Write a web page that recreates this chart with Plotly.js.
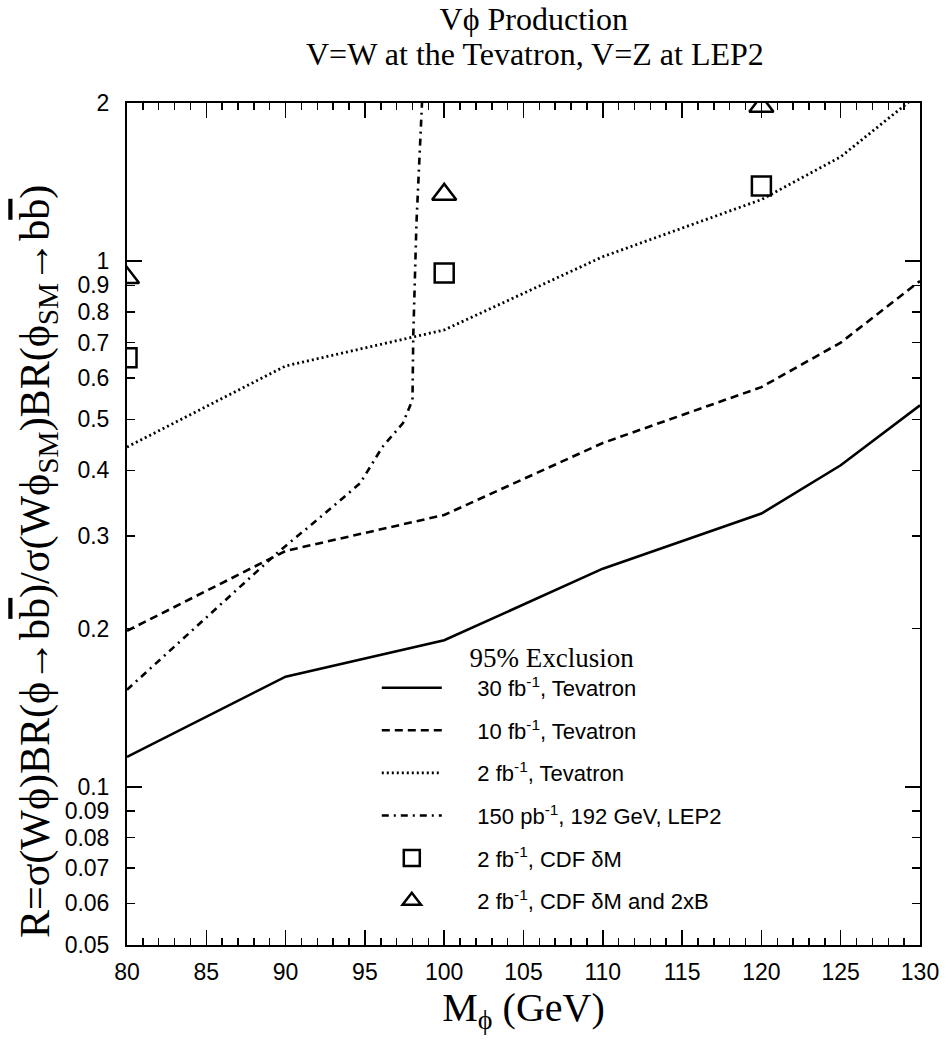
<!DOCTYPE html>
<html>
<head>
<meta charset="utf-8">
<script src="https://cdn.plot.ly/plotly-3.0.1.min.js"></script>
<style>
  html, body { margin: 0; padding: 0; background: #fff; }
  #chart { width: 948px; height: 1045px; }
</style>
</head>
<body>
<div id="chart"></div>
<script>
// ---- data ----
const mass30 = [80, 90, 100, 110, 120, 125, 130];
const r30 = [0.114, 0.162, 0.190, 0.260, 0.331, 0.409, 0.532];

const mass10 = [80, 90, 100, 110, 120, 125, 130];
const r10 = [0.198, 0.281, 0.329, 0.451, 0.576, 0.70, 0.917];

const mass2 = [80, 90, 100, 110, 120, 125, 130];
const r2 = [0.443, 0.632, 0.74, 1.02, 1.31, 1.58, 2.09];

const massLEP = [80, 85, 89.5, 92.2, 94.7, 96.1, 97.4, 98.0, 98.05, 98.25, 98.6];
const rLEP = [0.153, 0.21, 0.279, 0.326, 0.378, 0.443, 0.492, 0.545, 0.72, 1.18, 2.0];

const massSq = [80, 100, 120];
const rSq = [0.655, 0.95, 1.39];

const massTri = [80, 100, 120];
const rTri = [0.93, 1.34, 1.97];

const yTickVals = [0.05, 0.06, 0.07, 0.08, 0.09, 0.1, 0.2, 0.3, 0.4, 0.5, 0.6, 0.7, 0.8, 0.9, 1, 2];
const yTickText = ['0.05', '0.06', '0.07', '0.08', '0.09', '0.1', '0.2', '0.3', '0.4', '0.5', '0.6', '0.7', '0.8', '0.9', '1', '2'];
const yMajorVals = [0.1, 1];
const xTickVals = [80, 85, 90, 95, 100, 105, 110, 115, 120, 125, 130];
const xTickText = ['80', '85', '90', '95', '100', '105', '110', '115', '120', '125', '130'];

const pad = '\u00a0\u00a0\u00a0\u00a0\u00a0';
const names = [
  pad + '30 fb<sup>-1</sup>, Tevatron',
  pad + '10 fb<sup>-1</sup>, Tevatron',
  pad + '2 fb<sup>-1</sup>, Tevatron',
  pad + '150 pb<sup>-1</sup>, 192 GeV, LEP2',
  pad + '2 fb<sup>-1</sup>, CDF \u03b4M',
  pad + '2 fb<sup>-1</sup>, CDF \u03b4M and 2xB'
];

const titleLine1 = 'V\u03d5 Production';
const titleLine2 = 'V=W at the Tevatron, V=Z at LEP2';
const yTitle = 'R=\u03c3(W\u03d5)BR(\u03d5\u2192b<span style="text-decoration:overline">b</span>)/\u03c3(W\u03d5<sub>SM</sub>)BR(\u03d5<sub>SM</sub>\u2192b<span style="text-decoration:overline">b</span>)';
const xTitle = 'M<sub>\u03d5</sub> (GeV)';
const legendTitle = '95% Exclusion';

const traces = [
  { x: mass30, y: r30, mode: 'lines', name: names[0], legendgroup: 'a',
    line: { color: '#000', width: 2.6, dash: 'solid' } },
  { x: mass10, y: r10, mode: 'lines', name: names[1], legendgroup: 'b',
    line: { color: '#000', width: 2.6, dash: '8px,5px' } },
  { x: mass2, y: r2, mode: 'lines', name: names[2], legendgroup: 'c',
    line: { color: '#000', width: 2.8, dash: '2px,3px' } },
  { x: massLEP, y: rLEP, mode: 'lines', name: names[3], legendgroup: 'd',
    line: { color: '#000', width: 2.6, dash: '7px,5px,2px,5px' } },
  { x: massSq, y: rSq, mode: 'markers', name: names[4], legendgroup: 'e',
    marker: { symbol: 'square-open', size: 19, color: '#000', line: { width: 2.5, color: '#000' } } },
  { x: massTri, y: rTri, mode: 'markers', name: names[5], legendgroup: 'f',
    marker: { symbol: 'triangle-up-open', size: 21, color: '#000', line: { width: 2.5, color: '#000' } } }
];

const tickFont = { family: 'Liberation Sans, Arial, sans-serif', size: 23, color: '#000' };
const serif = 'Liberation Serif, Times New Roman, serif';

const layout = {
  width: 948,
  height: 1045,
  margin: { l: 127, r: 28, t: 103, b: 100 },
  paper_bgcolor: '#fff',
  plot_bgcolor: '#fff',
  showlegend: true,
  title: {
    text: titleLine1,
    font: { family: serif, size: 32, color: '#000' },
    x: 0.563, xanchor: 'center',
    y: 0.982, yanchor: 'middle'
  },
  annotations: [
    { text: titleLine2, xref: 'paper', yref: 'paper', x: 0.5145, y: 1.058,
      xanchor: 'center', yanchor: 'middle', showarrow: false,
      font: { family: serif, size: 32, color: '#000' } },
    { text: yTitle, xref: 'paper', yref: 'paper', x: -0.112, y: 0.455,
      xanchor: 'center', yanchor: 'middle', textangle: -90, showarrow: false,
      font: { family: serif, size: 42, color: '#000' } }
  ],
  xaxis: {
    type: 'linear',
    range: [80, 130],
    tickmode: 'array',
    tickvals: xTickVals,
    ticktext: xTickText,
    ticks: 'inside',
    ticklen: 15,
    tickwidth: 1.5,
    tickcolor: '#000',
    minor: { tickmode: 'linear', tick0: 80, dtick: 1, ticks: 'inside', ticklen: 7, tickwidth: 1.5, tickcolor: '#000' },
    showline: true,
    linewidth: 2,
    linecolor: '#000',
    mirror: 'ticks',
    showgrid: false,
    zeroline: false,
    tickfont: tickFont,
    ticklabelstandoff: 5,
    title: {
      text: xTitle,
      font: { family: serif, size: 40, color: '#000' },
      standoff: 4
    }
  },
  yaxis: {
    type: 'log',
    range: [Math.log10(0.05), Math.log10(2)],
    tickmode: 'array',
    tickvals: yTickVals,
    ticktext: yTickText,
    ticks: 'inside',
    ticklen: 8,
    tickwidth: 1.5,
    tickcolor: '#000',
    minor: { tickmode: 'array', tickvals: yMajorVals, ticks: 'inside', ticklen: 15, tickwidth: 1.5, tickcolor: '#000' },
    showline: true,
    linewidth: 2,
    linecolor: '#000',
    mirror: 'ticks',
    showgrid: false,
    zeroline: false,
    tickfont: tickFont,
    ticklabelstandoff: 11
  },
  legend: {
    x: 0.315, xanchor: 'left',
    y: 0.372, yanchor: 'top',
    bgcolor: 'rgba(0,0,0,0)',
    borderwidth: 0,
    font: { family: 'Liberation Sans, Arial, sans-serif', size: 22, color: '#000' },
    itemwidth: 60,
    tracegroupgap: 11,
    title: {
      text: legendTitle,
      side: 'top center',
      font: { family: serif, size: 27, color: '#000' }
    }
  }
};

Plotly.newPlot('chart', traces, layout, { displayModeBar: false, staticPlot: true });
</script>
</body>
</html>
